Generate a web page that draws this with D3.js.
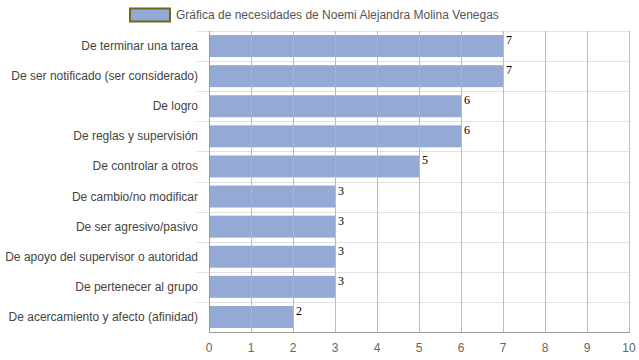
<!DOCTYPE html>
<html><head><meta charset="utf-8">
<script src="https://cdn.jsdelivr.net/npm/d3@7"></script>
<style>body{margin:0;background:#fff}</style>
</head><body>
<svg id="c" width="639" height="360"></svg>
<script>
const categories = ["De terminar una tarea","De ser notificado (ser considerado)","De logro","De reglas y supervisión","De controlar a otros","De cambio/no modificar","De ser agresivo/pasivo","De apoyo del supervisor o autoridad","De pertenecer al grupo","De acercamiento y afecto (afinidad)"];
const values = [7,7,6,6,5,3,3,3,3,2];
const xTicks = [0,1,2,3,4,5,6,7,8,9,10];
const seriesName = "Gráfica de necesidades de Noemi Alejandra Molina Venegas";

(function(){
const svg = d3.select("#c");
const pL = 209, pR = 629, pT = 31, pB = 332;
const x = d3.scaleLinear().domain([0,10]).range([pL,pR]);
const y = d3.scaleBand().domain(categories).range([pT,pB]).paddingInner(0.27).paddingOuter(0.135);
const step = y.step();

// horizontal grid
const hg = svg.append("g");
categories.forEach((c,i)=>{
  const yy = Math.round(pT + i*step) + 0.5;
  hg.append("line").attr("x1",197).attr("x2",pR).attr("y1",yy).attr("y2",yy).attr("stroke","#e2e2e2");
});
// bars
svg.append("g").selectAll("rect").data(values).join("rect")
  .attr("x", x(0)).attr("y",(d,i)=>y(categories[i]))
  .attr("width", d=>x(d)-x(0)).attr("height", y.bandwidth())
  .attr("fill","rgb(122,147,202)").attr("fill-opacity",0.8);
// vertical grid
svg.append("g").selectAll("line").data(xTicks).join("line")
  .attr("x1",d=>Math.round(x(d))+0.5).attr("x2",d=>Math.round(x(d))+0.5)
  .attr("y1",pT).attr("y2",pB)
  .attr("stroke",d=>d===0?"#999":"#b5b5b5").attr("stroke-opacity",0.9);
// bottom axis
svg.append("line").attr("x1",pL).attr("x2",pR+1).attr("y1",pB+0.5).attr("y2",pB+0.5).attr("stroke","#999");
svg.append("g").selectAll("text").data(xTicks).join("text")
  .attr("x",d=>x(d)).attr("y",352).attr("text-anchor","middle")
  .attr("font-family","Liberation Sans, Arial, sans-serif").attr("font-size",12).attr("fill","#666").text(d=>d);
// category labels
svg.append("g").selectAll("text").data(categories).join("text")
  .attr("x",198).attr("y",d=>y(d)+y.bandwidth()/2+4).attr("text-anchor","end")
  .attr("font-family","Liberation Sans, Arial, sans-serif").attr("font-size",12).attr("fill","#444").text(d=>d);
// value labels
svg.append("g").selectAll("text").data(values).join("text")
  .attr("x",d=>x(d)+3).attr("y",(d,i)=>y(categories[i])+9)
  .attr("font-family","Liberation Serif, Times New Roman, serif").attr("font-size",12).attr("fill","#000").text(d=>d);
// legend
svg.append("rect").attr("x",130).attr("y",8.5).attr("width",40).attr("height",13)
  .attr("fill","rgb(149,169,213)").attr("stroke","#6b6b1a").attr("stroke-width",2);
svg.append("text").attr("x",176).attr("y",19).attr("font-family","Liberation Sans, Arial, sans-serif")
  .attr("font-size",12).attr("fill","#555").text(seriesName);
})();
</script>
</body></html>
